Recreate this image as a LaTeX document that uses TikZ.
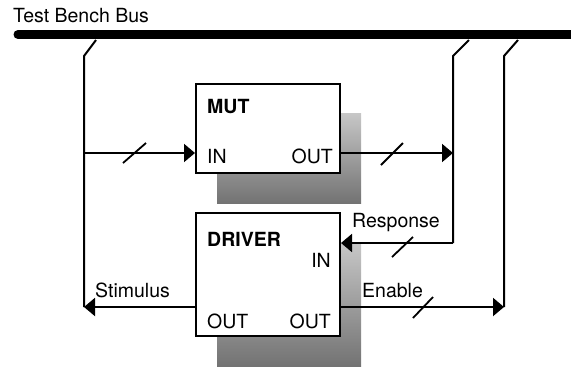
\documentclass[tikz,border=0pt]{standalone}
\usepackage{fontspec}
\setmainfont{TeX Gyre Heros}
\usetikzlibrary{arrows.meta}
\begin{document}
\begin{tikzpicture}[x=1pt,y=-1pt,
 wire/.style={line width=2pt, line join=miter},
 arr/.style={-{Triangle[length=11pt,width=18pt]}},
 box/.style={draw, line width=2pt, fill=white, rectangle, inner sep=0pt},
 shadowfill/.style={top color=black!22, bottom color=black!55},
 lbl/.style={inner sep=0pt, font=\fontsize{19.5}{22}\selectfont},
 blbl/.style={inner sep=0pt, font=\fontsize{19.5}{22}\selectfont\bfseries},
 slash/.style={line width=1.8pt}]
\useasboundingbox (0,0) rectangle (571,368);
% shadows
\shade[shadowfill] (217,113) rectangle (361,203);
\shade[shadowfill] (217,243) rectangle (361,366);
% boxes
\node[box, minimum width=144pt, minimum height=89pt] (mut) at (268,128.5) {};
\node[box, minimum width=144pt, minimum height=123pt] (driver) at (268,274.5) {};
% bus
\coordinate (busL) at (18,34.5);
\coordinate (busR) at (580,34.5);
\draw[line width=9pt, line cap=round] (busL) -- (busR);
\node[lbl, anchor=base west] (buslbl) at (13,22) {Test Bench Bus};
% taps
\coordinate (tapL) at (96,40);
\coordinate (kneeL) at (84,56);
\coordinate (stimEnd) at (84,307);
\coordinate (tapM) at (469,40);
\coordinate (kneeM) at (453,56);
\coordinate (respCorner) at (453,243);
\coordinate (tapR) at (518,40);
\coordinate (kneeR) at (504,56);
\coordinate (enEnd) at (504,307);
\draw[wire] (tapL) -- (kneeL) -- (stimEnd);
\draw[wire] (tapM) -- (kneeM) -- (respCorner);
\draw[wire] (tapR) -- (kneeR) -- (enEnd);
% arrows
\coordinate (inL) at (84,153);
\draw[wire,arr] (inL) -- (inL -| mut.west);
\draw[wire,arr] (mut.east |- inL) -- (kneeM |- inL);
\draw[wire,arr] (respCorner) -- (respCorner -| driver.east);
\draw[wire,arr] (driver.west |- stimEnd) -- (stimEnd);
\draw[wire,arr] (driver.east |- enEnd) -- (enEnd);
% slashes
\draw[slash] (123,163) -- (146,143);
\draw[slash] (381,165) -- (403,143);
\draw[slash] (392,257) -- (413,237);
\draw[slash] (413,318) -- (433,297);
% labels
\node[blbl, anchor=base west] (mutlbl) at (207,113) {MUT};
\node[lbl, anchor=base west] (mutin) at (207,163) {IN};
\node[lbl, anchor=base east] (mutout) at (333,163) {OUT};
\node[blbl, anchor=base west] (drvlbl) at (207,246) {DRIVER};
\node[lbl, anchor=base east] (drvin) at (331,267) {IN};
\node[lbl, anchor=base west] (drvout1) at (207,328) {OUT};
\node[lbl, anchor=base east] (drvout2) at (331,328) {OUT};
\node[lbl, anchor=base west] (resp) at (352,227) {Response};
\node[lbl, anchor=base west] (stim) at (95,297) {Stimulus};
\node[lbl, anchor=base west] (enable) at (362,297) {Enable};
\end{tikzpicture}
\end{document}
